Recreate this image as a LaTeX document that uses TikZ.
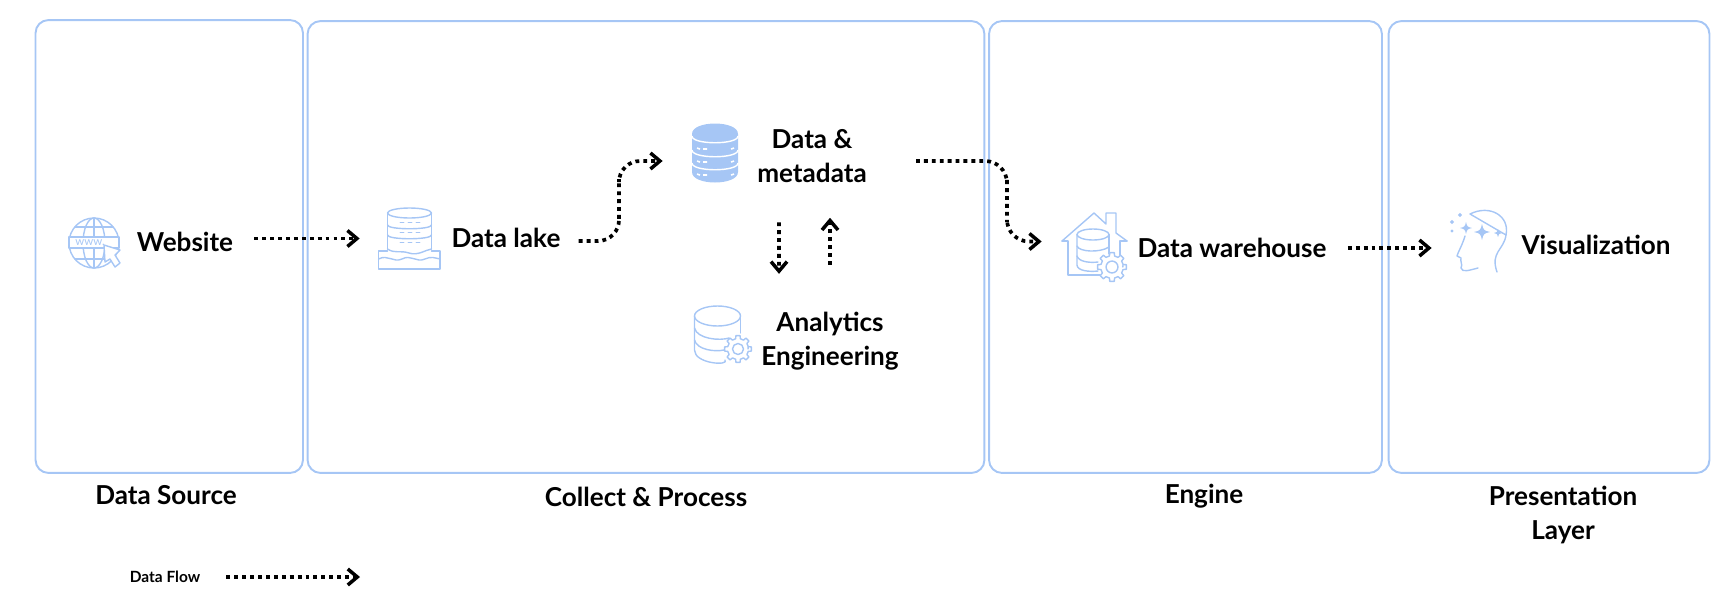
\documentclass[tikz,border=0pt]{standalone}
\usepackage{fontspec}
\setmainfont{Lato}
\usetikzlibrary{arrows.meta, positioning}
\definecolor{zoneBlue}{HTML}{A6C6F5}

\begin{document}
\begin{tikzpicture}[
    x=0.02cm, y=-0.02cm,
    zoneBox/.style={draw=zoneBlue, line width=1.1pt, rounded corners=0.26cm, inner sep=0},
    iconBox/.style={inner sep=0},
    iconLine/.style={draw=zoneBlue, line width=0.8pt, line join=round, line cap=round},
    thinLine/.style={draw=zoneBlue, line width=0.55pt, line cap=round},
    mainText/.style={font=\fontsize{14.85}{19.1}\selectfont\bfseries, align=center, inner sep=0},
    smallText/.style={font=\fontsize{8.8}{10}\selectfont\bfseries, inner sep=0},
    dataFlow/.style={-{Straight Barb[length=0.19cm, width=0.32cm, line width=2pt]}, black, line width=2.1pt, dash pattern=on 2.2pt off 2.3pt},
    gearIcon/.pic={
        \draw[iconLine, fill=white] (0:10) \foreach \a in {0,45,...,315} { -- (\a-13:10.5) -- (\a-9:13.5) -- (\a+9:13.5) -- (\a+13:10.5) -- (\a+32:10.5)} -- cycle;
        \draw[iconLine] (0,0) circle [radius=5.5];
    },
    sparkIcon/.pic={
        \fill[zoneBlue] (0,-10) .. controls (2,-2) .. (10,0) .. controls (2,2) .. (0,10) .. controls (-2,2) .. (-10,0) .. controls (-2,-2) .. (0,-10);
    }
]
    \useasboundingbox (0,0) rectangle (1732,599);

    % Zones
    \node[zoneBox, minimum width=5.35cm, minimum height=9.06cm] (sourceZone) at (169.25,246.5) {};
    \node[zoneBox, minimum width=13.54cm, minimum height=9.04cm] (processZone) at (646,247) {};
    \node[zoneBox, minimum width=7.86cm, minimum height=9.04cm] (engineZone) at (1185.5,247) {};
    \node[zoneBox, minimum width=6.42cm, minimum height=9.04cm] (presentZone) at (1549,247) {};

    % Zone titles
    \node[mainText] (sourceTitle) at (166,495) {Data Source};
    \node[mainText] (processTitle) at (646,497) {Collect \& Process};
    \node[mainText] (engineTitle) at (1204,496) {Engine};
    \node[mainText] (presentTitle) at (1563,515) {Presentation\\Layer};

    % Labels
    \node[mainText] (websiteLabel) at (185,242) {Website};
    \node[mainText] (lakeLabel) at (506,238) {Data lake};
    \node[mainText] (dataLabel) at (812,156) {Data \&\\metadata};
    \node[mainText] (analyticsLabel) at (830,341) {Analytics\\Engineering};
    \node[mainText] (warehouseLabel) at (1232,248) {Data warehouse};
    \node[mainText] (visualLabel) at (1596,245) {Visualization};

    % Icon places
    \node[iconBox, minimum width=1.0cm, minimum height=0.98cm] (websiteIcon) at (94,243) {};
    \node[iconBox, minimum width=1.24cm, minimum height=1.22cm] (lakeIcon) at (409,238.5) {};
    \node[iconBox, minimum width=0.92cm, minimum height=1.16cm] (dataIcon) at (715,153) {};
    \node[iconBox, minimum width=1.06cm, minimum height=1.12cm] (analyticsIcon) at (720,334) {};
    \node[iconBox, minimum width=1.3cm, minimum height=1.38cm] (warehouseIcon) at (1094.5,247.5) {};
    \node[iconBox, minimum width=1.16cm, minimum height=1.3cm] (visualIcon) at (1479,240.5) {};

    % Website icon
    \draw[iconLine] (94,243) circle [radius=25];
    \draw[iconLine] (94,243) ellipse [x radius=11, y radius=25];
    \draw[iconLine] (94,218) -- (94,268);
    \draw[iconLine] (75,227) -- (113,227) (75,259) -- (113,259);
    \draw[iconLine, fill=white] (69,237) rectangle (119,248);
    \node[font=\fontsize{6.5}{7}\selectfont, text=zoneBlue, inner sep=0] (wwwText) at (90,242.5) {www.};
    \draw[iconLine, fill=white] (104,245) -- (120,250) -- (115,255) -- (120,263) -- (115,267) -- (110,259) -- (105,262) -- cycle;

    % Data lake icon
    \draw[iconLine] (409.5,213) ellipse [x radius=22, y radius=5];
    \draw[iconLine] (387.5,213) -- (387.5,249) (431.5,213) -- (431.5,249);
    \draw[iconLine] (387.5,225) .. controls (387.5,230) and (431.5,230) .. (431.5,225);
    \draw[iconLine] (387.5,235) .. controls (387.5,240) and (431.5,240) .. (431.5,235);
    \foreach \y in {222,232,242} {
        \draw[thinLine] (400,\y) -- (404,\y) (408,\y) -- (412,\y) (416,\y) -- (420,\y);
    }
    \draw[iconLine] (387.5,251) -- (378.5,251) -- (378.5,269) -- (440,269) -- (440,251) -- (431.5,251);
    \draw[iconLine] (378.5,259) .. controls (388,254) and (393,263) .. (402,259) .. controls (411,254) and (416,263) .. (425,259) .. controls (431,256) and (435,258) .. (440,259);
    \draw[iconLine] (387.5,249) .. controls (395,254) and (400,250) .. (409,253) .. controls (418,256) and (425,250) .. (431.5,249);

    % Data and metadata icon
    \fill[zoneBlue] (692,134) .. controls (692,120) and (738,120) .. (738,134) -- (738,172) .. controls (738,186) and (692,186) .. (692,172) -- cycle;
    \foreach \y in {136,150,163} {
        \draw[white, line width=0.8pt] (692,\y) .. controls (692,\y+9) and (738,\y+9) .. (738,\y);
    }
    \foreach \y in {149,162,175} {
        \draw[white, line width=0.9pt] (697,\y-1) -- (700,\y) (703,\y) -- (707,\y) (731,\y) -- (734,\y-1);
    }

    % Analytics icon
    \draw[iconLine] (717.5,316) ellipse [x radius=23, y radius=10];
    \draw[iconLine] (694.5,316) -- (694.5,350) .. controls (694.5,364) and (730,366) .. (725,360);
    \draw[iconLine] (740.5,316) -- (740.5,333);
    \draw[iconLine] (694.5,328) .. controls (697,339) and (720,341) .. (729,338);
    \draw[iconLine] (694.5,340) .. controls (697,350) and (715,352) .. (724,350);
    \pic at (738,349) {gearIcon};

    % Data warehouse icon
    \draw[iconLine] (1062,241) -- (1094,213) -- (1106,224) -- (1106,213) -- (1116,213) -- (1116,233) -- (1127,241);
    \draw[iconLine] (1062,241) -- (1068,241) -- (1068,275) -- (1100,275);
    \draw[iconLine] (1127,241) -- (1120,241) -- (1120,255);
    \draw[iconLine] (1093,234.5) ellipse [x radius=16, y radius=5.5];
    \draw[iconLine] (1077,234.5) -- (1077,265) .. controls (1077,271) and (1090,272) .. (1098,271);
    \draw[iconLine] (1109,234.5) -- (1109,254);
    \draw[iconLine] (1077,246) .. controls (1079,252) and (1100,253) .. (1109,247);
    \draw[iconLine] (1077,256) .. controls (1079,262) and (1090,263) .. (1098,262);
    \pic[scale=1.08] at (1112,267) {gearIcon};

    % Visualization icon
    \draw[iconLine] (1470,214) .. controls (1490,204) and (1510,216) .. (1506,235) -- cycle;
    \draw[iconLine] (1506,235) .. controls (1504,250) and (1490,252) .. (1497,272);
    \draw[iconLine] (1465,236) .. controls (1462,246) and (1458,252) .. (1457,256) -- (1461,258) .. controls (1460,262) and (1463,264) .. (1461,268) .. controls (1462,273) and (1470,270) .. (1478,268);
    \pic[scale=0.6] at (1466,228) {sparkIcon};
    \pic[scale=0.8] at (1482,232) {sparkIcon};
    \pic[scale=0.22] at (1460,215) {sparkIcon};
    \pic[scale=0.22] at (1452,222) {sparkIcon};
    \pic[scale=0.16] at (1452,231) {sparkIcon};
    \pic[scale=0.4] at (1498,233) {sparkIcon};

    % Data flow
    \draw[dataFlow, shorten <=0.42cm, shorten >=0.36cm] (websiteLabel.east |- lakeIcon.west) -- (lakeIcon.west);
    \draw[dataFlow, rounded corners=0.42cm, shorten <=0.36cm, shorten >=0.58cm] ([yshift=-0.06cm]lakeLabel.east) -| (619,200) |- ([yshift=-0.16cm]dataIcon.west);
    \draw[dataFlow, rounded corners=0.44cm, shorten <=0.98cm, shorten >=0.4cm] ([yshift=-0.1cm]dataLabel.east) -| (1007,200) |- ([yshift=0.12cm]warehouseIcon.west);
    \draw[dataFlow, shorten <=0.79cm, shorten >=0.76cm] ([xshift=-0.66cm]dataLabel.south) -- ([xshift=-1.02cm]analyticsLabel.north);
    \draw[dataFlow, shorten <=0.94cm, shorten >=0.7cm] (analyticsLabel.north) -- (analyticsLabel.north |- dataLabel.south);
    \draw[dataFlow, shorten <=0.42cm, shorten >=0.36cm] (warehouseLabel.east) -- (visualIcon.west |- warehouseLabel.east);

    % Legend
    \node[smallText] (legendLabel) at (165,577) {Data Flow};
    \coordinate (legendEnd) at (360,577);
    \draw[dataFlow, shorten <=0.52cm] (legendLabel.east) -- (legendEnd);
\end{tikzpicture}
\end{document}
